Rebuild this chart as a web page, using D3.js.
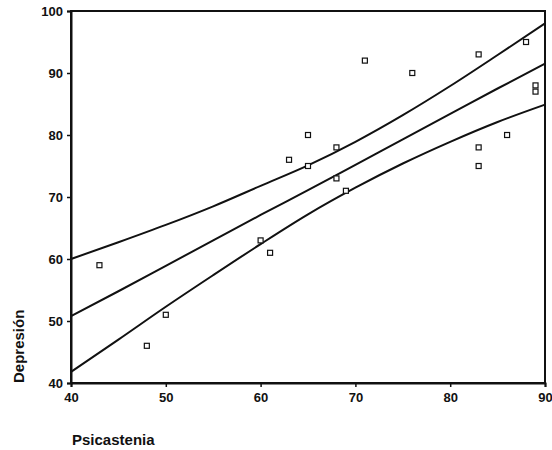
<!DOCTYPE html>
<html>
<head>
<meta charset="utf-8">
<script src="https://cdn.jsdelivr.net/npm/d3@7"></script>
<style>
  body { margin: 0; background: #fff; }
  text { font-family: "Liberation Sans", Arial, sans-serif; fill: #111; }
</style>
</head>
<body>
<div id="chart"></div>
<script>
const width = 552;
const height = 450;

// scatter points (Psicastenia, Depresión)
const psicastenia = [43, 48, 50, 60, 61, 63, 65, 65, 68, 68, 69, 71, 76, 83, 83, 83, 86, 88, 89, 89];
const depresion   = [59, 46, 51, 63, 61, 76, 80, 75, 78, 73, 71, 92, 90, 93, 78, 75, 80, 95, 88, 87];

// fitted line and confidence bands, read at these x
const bandX     = [40, 45, 50, 55, 60, 65, 70, 75, 80, 85, 90];
const fitLine   = [50.8, 54.8, 58.9, 63.0, 67.1, 71.1, 75.2, 79.3, 83.4, 87.5, 91.5];
const upperBand = [60.0, 62.7, 65.5, 68.5, 71.8, 75.1, 78.9, 83.2, 87.9, 92.9, 98.0];
const lowerBand = [41.8, 47.0, 52.3, 57.4, 62.4, 67.2, 71.5, 75.4, 78.9, 82.1, 84.9];

const xTicks = [40, 50, 60, 70, 80, 90];
const yTicks = [40, 50, 60, 70, 80, 90, 100];

const svg = d3.select("#chart")
    .append("svg")
    .attr("width", width)
    .attr("height", height);

const x = d3.scaleLinear().domain([40, 90]).range([71, 545]);
const y = d3.scaleLinear().domain([40, 100]).range([383, 11]);

// frame
svg.append("rect")
    .attr("x", x(40))
    .attr("y", y(100))
    .attr("width", x(90) - x(40))
    .attr("height", y(40) - y(100))
    .attr("fill", "none")
    .attr("stroke", "#111")
    .attr("stroke-width", 2);

const xAxis = svg.append("g")
    .attr("transform", `translate(0,${y(40)})`)
    .call(d3.axisBottom(x).tickValues(xTicks).tickSize(4).tickPadding(6));

const yAxis = svg.append("g")
    .attr("transform", `translate(${x(40)},0)`)
    .call(d3.axisLeft(y).tickValues(yTicks).tickSize(4).tickPadding(4));

[xAxis, yAxis].forEach(g => {
    g.select(".domain").attr("stroke", "#111").attr("stroke-width", 2);
    g.selectAll(".tick line").attr("stroke", "#111").attr("stroke-width", 1.5);
    g.selectAll(".tick text")
        .attr("font-size", 13)
        .attr("font-weight", "bold")
        .attr("fill", "#111")
        .style("font-family", "'Liberation Sans', Arial, sans-serif");
});

const line = d3.line()
    .x((d, i) => x(bandX[i]))
    .y(d => y(d))
    .curve(d3.curveMonotoneX);

[upperBand, fitLine, lowerBand].forEach(series => {
    svg.append("path")
        .datum(series)
        .attr("d", line)
        .attr("fill", "none")
        .attr("stroke", "#111")
        .attr("stroke-width", 2);
});

svg.selectAll(".pt")
    .data(psicastenia)
    .enter().append("rect")
    .attr("class", "pt")
    .attr("x", (d, i) => x(d) - 2.5)
    .attr("y", (d, i) => y(depresion[i]) - 2.5)
    .attr("width", 5)
    .attr("height", 5)
    .attr("fill", "#fff")
    .attr("stroke", "#111")
    .attr("stroke-width", 1.2);

svg.append("text")
    .attr("x", 72)
    .attr("y", 445)
    .attr("font-size", 15)
    .attr("font-weight", "bold")
    .text("Psicastenia");

svg.append("text")
    .attr("transform", `translate(24,${y(40)}) rotate(-90)`)
    .attr("font-size", 15)
    .attr("font-weight", "bold")
    .text("Depresión");
</script>
</body>
</html>
